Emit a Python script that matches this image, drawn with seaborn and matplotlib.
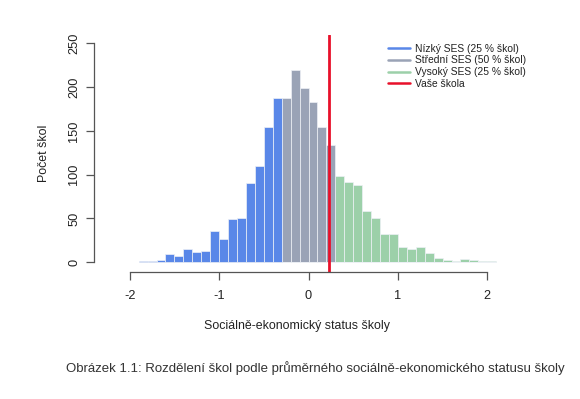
import numpy as np
import pandas as pd
import matplotlib
matplotlib.use("Agg")
import matplotlib.pyplot as plt
import seaborn as sns
from matplotlib.lines import Line2D

# ---- data ----
BIN_START = -1.9
BIN_WIDTH = 0.1
low_counts = [2, 1, 3, 9, 7, 15, 12, 13, 36, 27, 49, 51, 90, 110, 154, 188]
mid_counts = [187, 220, 199, 183, 154, 134]
high_counts = [98, 92, 88, 59, 51, 32, 32, 17, 15, 17, 11, 5, 3, 1, 4, 3, 1, 1]
group_labels = ["Nízký SES (25 % škol)", "Střední SES (50 % škol)", "Vysoký SES (25 % škol)"]
school_label = "Vaše škola"
school_value = 0.23
x_ticks = [-2, -1, 0, 1, 2]
y_ticks = [0, 50, 100, 150, 200, 250]
x_label = "Sociálně-ekonomický status školy"
y_label = "Počet škol"
caption = "Obrázek 1.1: Rozdělení škol podle průměrného sociálně-ekonomického statusu školy"

colors = ["#5987E8", "#9AA3B6", "#9CD0A9"]
red = "#E8102A"

counts = low_counts + mid_counts + high_counts
groups = ([group_labels[0]] * len(low_counts) + [group_labels[1]] * len(mid_counts)
          + [group_labels[2]] * len(high_counts))
n = len(counts)
edges = BIN_START + BIN_WIDTH * np.arange(n + 1)
centers = (edges[:-1] + edges[1:]) / 2
df = pd.DataFrame({"ses": centers, "count": counts, "group": groups})

sns.set_theme(style="white")
plt.rcParams["font.family"] = ["Liberation Sans", "DejaVu Sans"]

W, H = 580, 399
fig = plt.figure(figsize=(W / 100, H / 100), dpi=100)
left_px, right_px, top_px, bottom_px = 94, 500, 35, 272
ax = fig.add_axes([left_px / W, 1 - bottom_px / H, (right_px - left_px) / W, (bottom_px - top_px) / H])

sns.histplot(data=df, x="ses", weights="count", hue="group",
             binwidth=BIN_WIDTH, binrange=(float(edges[0]), float(edges[-1])),
             palette=dict(zip(group_labels, colors)), multiple="layer",
             alpha=1, edgecolor="#EEF1F6", linewidth=0.5, legend=False, ax=ax)

ax.axvline(school_value, color=red, lw=2)

px_per_x = (487.3 - 129.7) / 4
x0_px = 129.7 + 2 * px_per_x
ax.set_xlim((left_px - x0_px) / px_per_x, (right_px - x0_px) / px_per_x)
px_per_y = (262.3 - 43.3) / 250
ax.set_ylim((262.3 - bottom_px) / px_per_y, (262.3 - top_px) / px_per_y)

for s in ["top", "right"]:
    ax.spines[s].set_visible(False)
ax.spines["left"].set_bounds(0, 250)
ax.spines["bottom"].set_bounds(-2, 2)
for s in ["left", "bottom"]:
    ax.spines[s].set_color("#555555")
    ax.spines[s].set_linewidth(0.9)

ax.set_xticks(x_ticks)
ax.set_xticklabels([str(t) for t in x_ticks])
ax.set_yticks(y_ticks)
ax.set_yticklabels([str(t) for t in y_ticks], rotation=90, va="center")
ax.tick_params(axis="both", which="both", direction="out", length=6, width=0.9,
               color="#555555", labelsize=9.2, labelcolor="#222222", left=True, bottom=True)
ax.tick_params(axis="x", pad=7)
ax.tick_params(axis="y", pad=4)

ax.set_xlabel(x_label, fontsize=8.9, color="#222222", labelpad=13)
ax.set_ylabel(y_label, fontsize=8.9, color="#222222", labelpad=13)

handles = [Line2D([0], [0], color=c, lw=1.8) for c in colors] + [Line2D([0], [0], color=red, lw=1.8)]
leg = ax.legend(handles, group_labels + [school_label], loc="upper left",
                bbox_to_anchor=((388 - left_px) / (right_px - left_px), 1 - (43.5 - top_px) / (bottom_px - top_px)),
                frameon=False, fontsize=7.4, handlelength=2.1, handletextpad=0.55,
                labelspacing=0.18, borderaxespad=0, borderpad=0)
for t in leg.get_texts():
    t.set_color("#222222")

fig.text(315 / W, 1 - 368 / H, caption, ha="center", va="center", fontsize=9.5, color="#333333")

fig.savefig("out.png", dpi=100)
